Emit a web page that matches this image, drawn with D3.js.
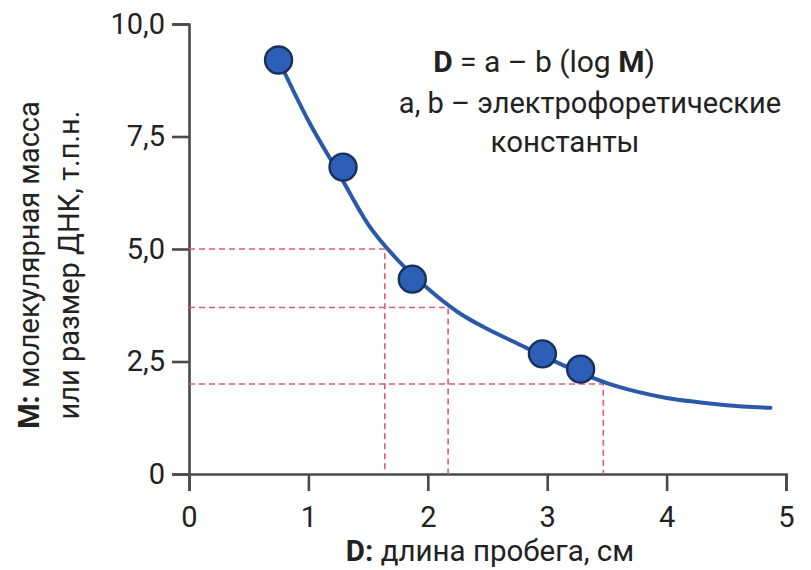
<!DOCTYPE html>
<html>
<head>
<meta charset="utf-8">
<script src="https://cdn.jsdelivr.net/npm/d3@7"></script>
<style>
  body { margin: 0; background: #fff; }
  svg text { font-family: Roboto, "Open Sans", sans-serif; fill: #222; }
</style>
</head>
<body>
<svg id="chart" width="811" height="570"></svg>
<script>
// опытные точки (D, M)
const pointD = [0.75, 1.29, 1.87, 2.96, 3.28]
const pointM = [9.2, 6.82, 4.33, 2.67, 2.33]

// калибровочная кривая
const curveD = [0.75, 1.0, 1.25, 1.5, 1.75, 2.0, 2.25, 2.5, 2.75, 3.0, 3.25, 3.5, 3.75, 4.0, 4.25, 4.5, 4.87]
const curveM = [9.2, 7.85, 6.7, 5.55, 4.75, 4.12, 3.6, 3.22, 2.9, 2.58, 2.28, 2.02, 1.83, 1.69, 1.6, 1.53, 1.47]

// пунктирные отсечки
const guideD = [1.64, 2.17, 3.47]
const guideM = [5.0, 3.7, 2.0]

const xTicks = [0, 1, 2, 3, 4, 5]
const yTicks = [0, 2.5, 5, 7.5, 10]

const svg = d3.select('#chart')

const x = d3.scaleLinear().domain([0, 5]).range([189, 786])
const y = d3.scaleLinear().domain([0, 10]).range([474, 24])

const fmtY = d => d === 0 ? '0' : d3.format('.1f')(d).replace('.', ',')

// оси
const gx = svg.append('g')
    .attr('transform', `translate(0,${y(0)})`)
    .call(d3.axisBottom(x).tickValues(xTicks).tickSize(17).tickPadding(15).tickFormat(d3.format('d')))
const gy = svg.append('g')
    .attr('transform', `translate(${x(0)},0)`)
    .call(d3.axisLeft(y).tickValues(yTicks).tickSize(17).tickPadding(7).tickFormat(fmtY))

;[gx, gy].forEach(g => {
    g.select('.domain').attr('stroke', '#4a4a4a').attr('stroke-width', 2.6)
    g.selectAll('.tick line').attr('stroke', '#4a4a4a').attr('stroke-width', 2.6)
    g.selectAll('.tick text').attr('font-size', 29).attr('fill', '#333').style('font-family', 'Roboto')
})

// пунктир
const guides = guideD.map((d, i) => ({ d, m: guideM[i] }))
svg.append('g').selectAll('path')
    .data(guides)
    .join('path')
    .attr('d', g => `M${x(0)},${y(g.m)}H${x(g.d)}V${y(0)}`)
    .attr('fill', 'none')
    .attr('stroke', '#dc5a75')
    .attr('stroke-width', 1.6)
    .attr('stroke-dasharray', '6,4')

// кривая
const line = d3.line()
    .x(d => x(d[0]))
    .y(d => y(d[1]))
    .curve(d3.curveMonotoneX)
svg.append('path')
    .datum(curveD.map((d, i) => [d, curveM[i]]))
    .attr('d', line)
    .attr('fill', 'none')
    .attr('stroke', '#2b59a9')
    .attr('stroke-width', 4)
    .attr('stroke-linecap', 'round')

// точки
svg.append('g').selectAll('circle')
    .data(pointD.map((d, i) => [d, pointM[i]]))
    .join('circle')
    .attr('cx', d => x(d[0]))
    .attr('cy', d => y(d[1]))
    .attr('r', 13.5)
    .attr('fill', '#2d5fb6')
    .attr('stroke', '#18305c')
    .attr('stroke-width', 2.4)

// подписи осей
const xt = svg.append('text')
    .attr('x', 490).attr('y', 561)
    .attr('text-anchor', 'middle')
    .attr('font-size', 29.5)
xt.append('tspan').attr('font-weight', 'bold').text('D:')
xt.append('tspan').text(' длина пробега, см')

const yt = svg.append('text')
    .attr('transform', 'translate(0,265) rotate(-90)')
    .attr('text-anchor', 'middle')
    .attr('font-size', 29)
const l1 = yt.append('tspan').attr('x', 0).attr('y', 39)
l1.append('tspan').attr('font-weight', 'bold').text('M:')
l1.append('tspan').text(' молекулярная масса')
yt.append('tspan').attr('x', 0).attr('y', 79).text('или размер ДНК, т.п.н.')

// формула
const eq = svg.append('text')
    .attr('x', 544).attr('y', 72)
    .attr('text-anchor', 'middle')
    .attr('font-size', 30)
eq.append('tspan').attr('font-weight', 'bold').text('D')
eq.append('tspan').text(' = a – b (log ')
eq.append('tspan').attr('font-weight', 'bold').text('M')
eq.append('tspan').text(')')

svg.append('text')
    .attr('x', 590).attr('y', 113)
    .attr('text-anchor', 'middle')
    .attr('font-size', 29)
    .text('a, b – электрофоретические')
svg.append('text')
    .attr('x', 565).attr('y', 152)
    .attr('text-anchor', 'middle')
    .attr('font-size', 29.5)
    .text('константы')
</script>
</body>
</html>
